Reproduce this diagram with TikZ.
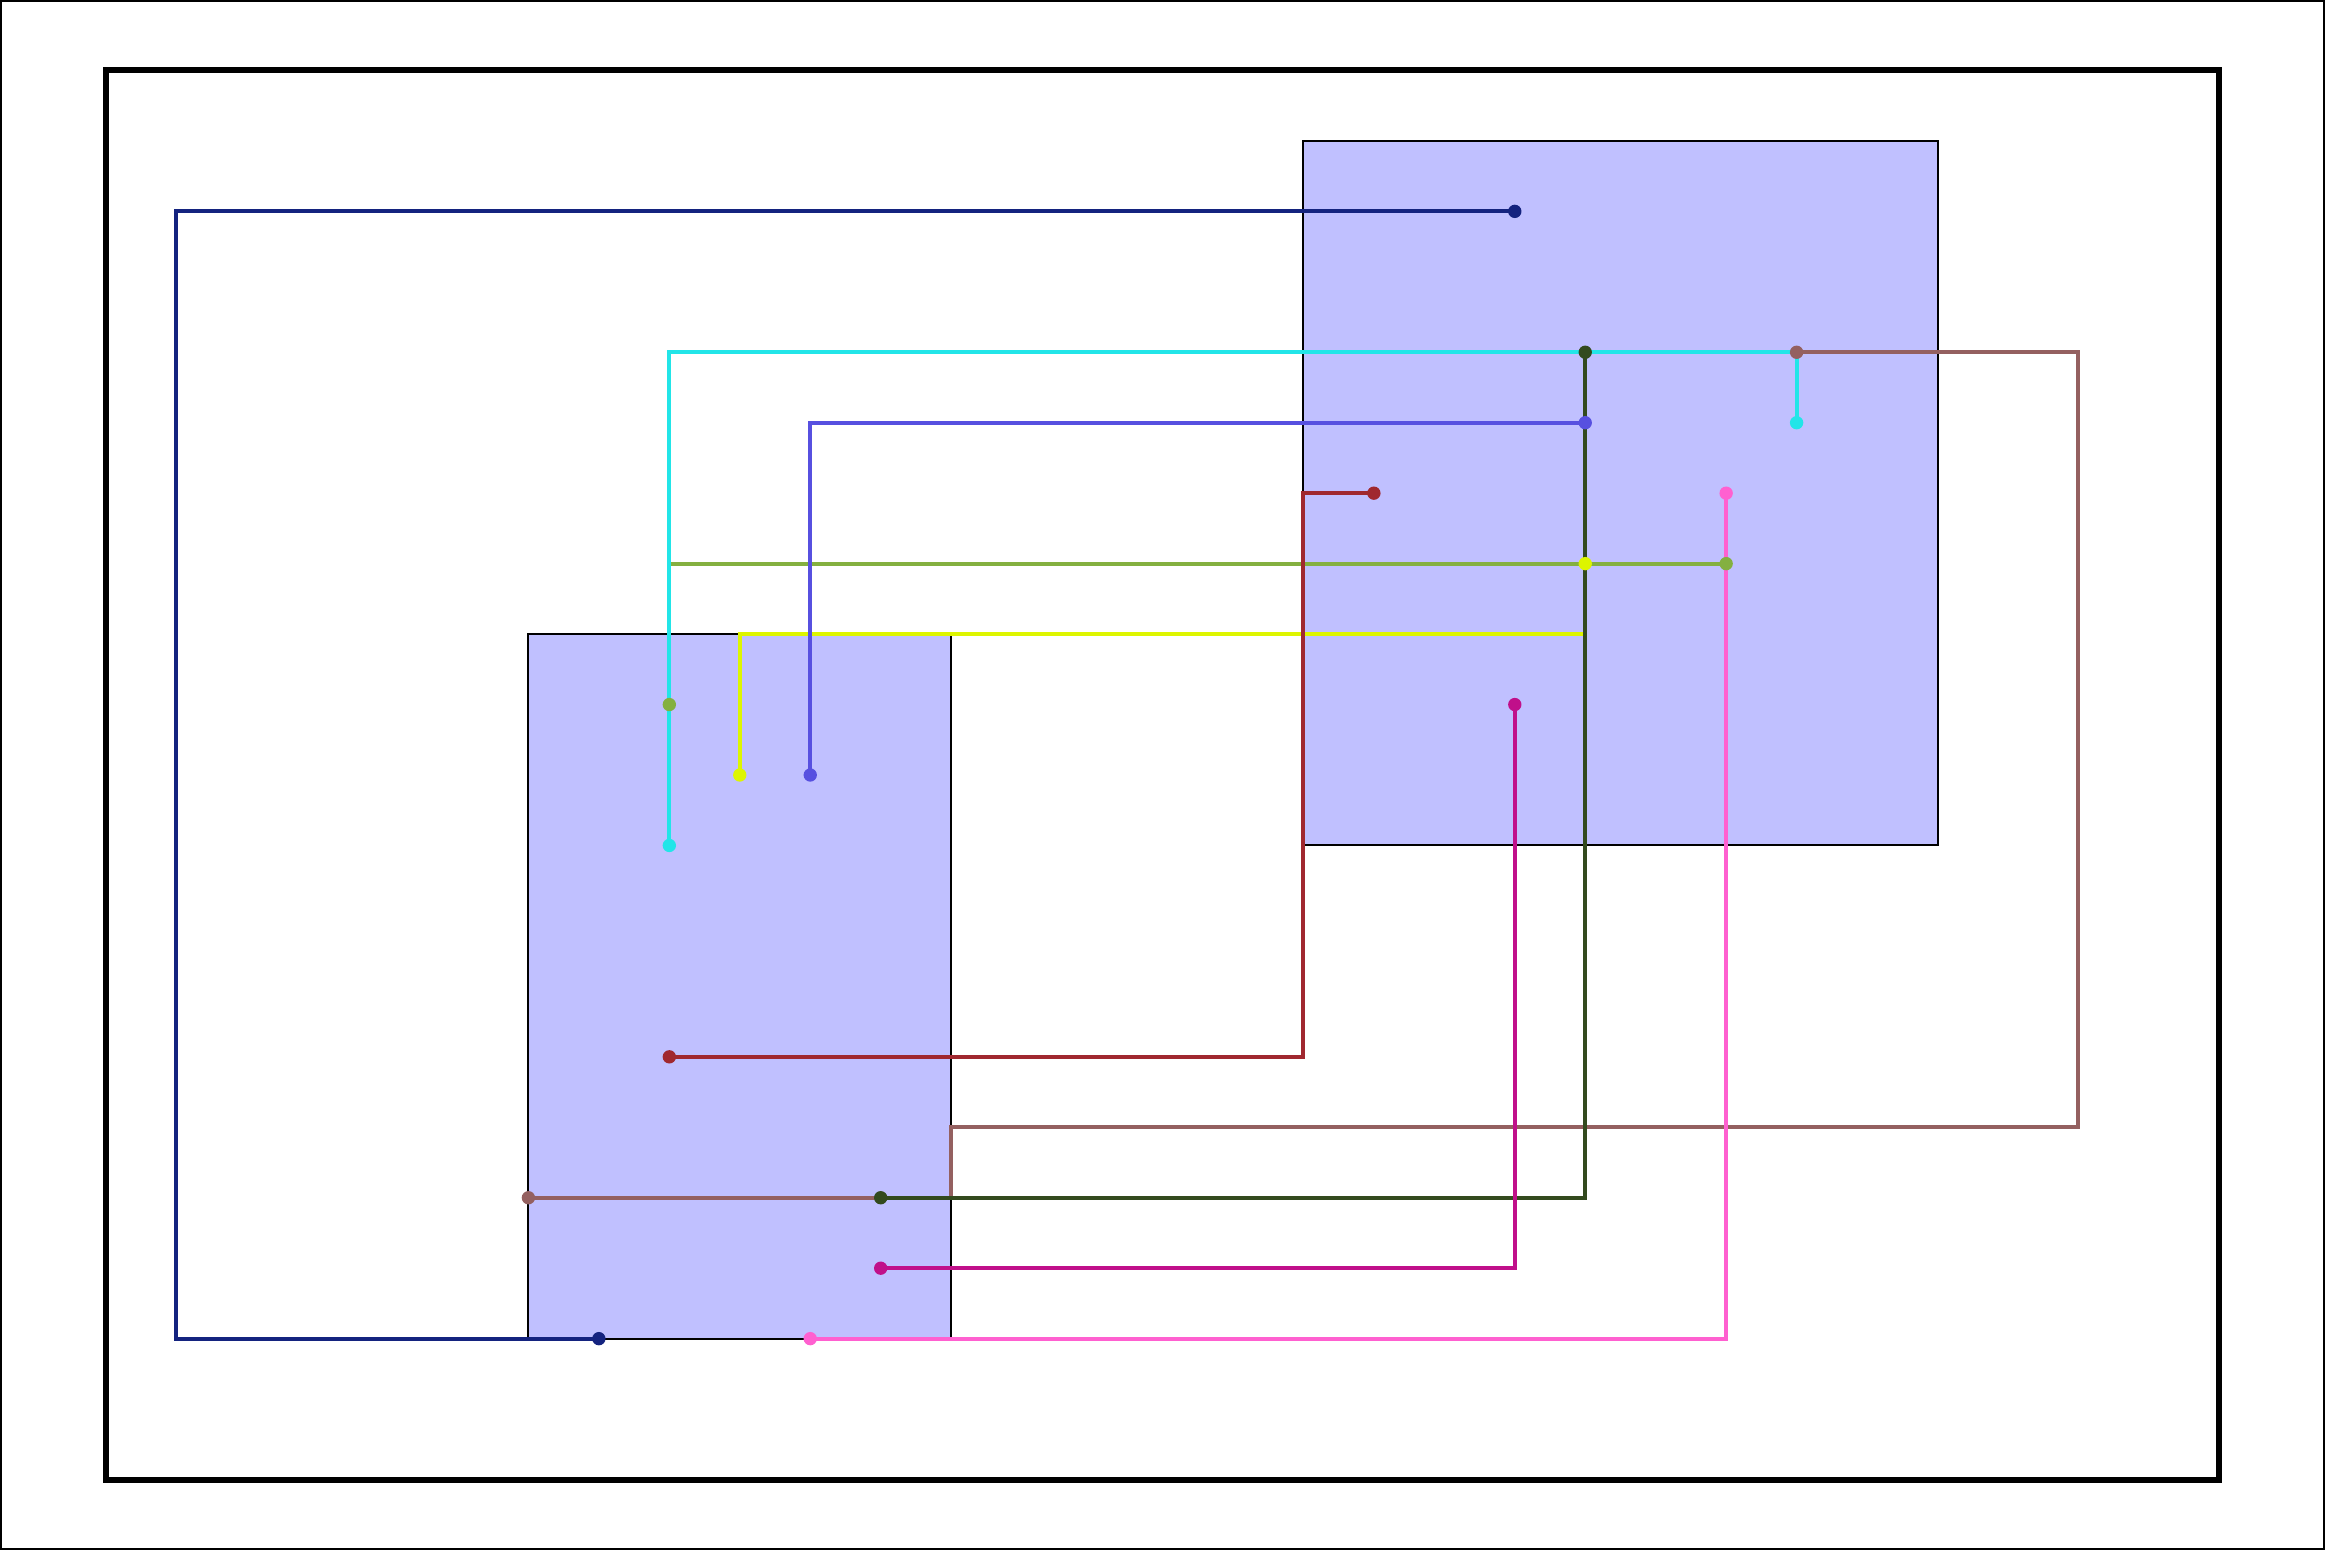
\documentclass[tikz,border=0pt]{standalone}
\definecolor{boxfill}{HTML}{C0C0FF}
\definecolor{cnavy}{HTML}{14237F}
\definecolor{ccyan}{HTML}{22E5E8}
\definecolor{cviolet}{HTML}{5750E0}
\definecolor{cdred}{HTML}{A0282F}
\definecolor{cpink}{HTML}{FF60D0}
\definecolor{colive}{HTML}{84B040}
\definecolor{cyellow}{HTML}{DDF500}
\definecolor{cdgreen}{HTML}{334A1E}
\definecolor{cbrown}{HTML}{946060}
\definecolor{cmagenta}{HTML}{C0108A}
\pgfdeclarelayer{bg}
\pgfdeclarelayer{lines}
\pgfsetlayers{bg,lines,main}
\begin{document}
\begin{tikzpicture}[x=1cm,y=-1cm,
  conn/.style={line width=1.6pt},
  dot/.style={circle,fill=#1,inner sep=0pt,minimum size=5.4pt},
  box/.style={rectangle,fill=boxfill,draw=black,line width=0.8pt,inner sep=0pt,outer sep=0pt,anchor=north west}]
\useasboundingbox (0,0) rectangle (33,22);
\begin{pgfonlayer}{bg}
\fill[white] (0,0) rectangle (33,22);
\draw[line width=1.6pt] (0,0) rectangle (33,22);
\draw[line width=2.4pt] (1.5,1) rectangle (31.5,21);
\node[box,minimum width=9cm,minimum height=10cm] (R) at (18.5,2) {};
\node[box,minimum width=6cm,minimum height=10cm] (L) at (7.5,9) {};
\end{pgfonlayer}
% endpoints
\node[dot=cnavy] (n1) at (21.5,3) {};
\node[dot=cnavy] (n2) at (8.5,19) {};
\node[dot=ccyan] (c1) at (25.5,6) {};
\node[dot=ccyan] (c2) at (9.5,12) {};
\node[dot=cviolet] (v1) at (22.5,6) {};
\node[dot=cviolet] (v2) at (11.5,11) {};
\node[dot=cdred] (r1) at (19.5,7) {};
\node[dot=cdred] (r2) at (9.5,15) {};
\node[dot=cpink] (p1) at (24.5,7) {};
\node[dot=cpink] (p2) at (11.5,19) {};
\node[dot=colive] (o1) at (24.5,8) {};
\node[dot=colive] (o2) at (9.5,10) {};
\node[dot=cyellow] (y1) at (22.5,8) {};
\node[dot=cyellow] (y2) at (10.5,11) {};
\node[dot=cdgreen] (g1) at (22.5,5) {};
\node[dot=cdgreen] (g2) at (12.5,17) {};
\node[dot=cbrown] (b1) at (25.5,5) {};
\node[dot=cbrown] (b2) at (7.5,17) {};
\node[dot=cmagenta] (m1) at (21.5,10) {};
\node[dot=cmagenta] (m2) at (12.5,18) {};
\begin{pgfonlayer}{lines}
\draw[conn,colive] (o1.center) -| (o2.center);
\draw[conn,cyellow] (y1.center) -- (22.5,9) -| (y2.center);
\draw[conn,cbrown] (b1.center) -| (29.5,16) -| (13.5,17) -- (b2.center);
\draw[conn,cdgreen] (g1.center) |- (g2.center);
\draw[conn,cmagenta] (m1.center) |- (m2.center);
\draw[conn,cpink] (p1.center) |- (p2.center);
\draw[conn,cviolet] (v1.center) -| (v2.center);
\draw[conn,cdred] (r1.center) -- (18.5,7) |- (r2.center);
\draw[conn,ccyan] (c1.center) -- (25.5,5) -| (c2.center);
\draw[conn,cnavy] (n1.center) -| (2.5,19) -- (n2.center);
\end{pgfonlayer}
\end{tikzpicture}
\end{document}
